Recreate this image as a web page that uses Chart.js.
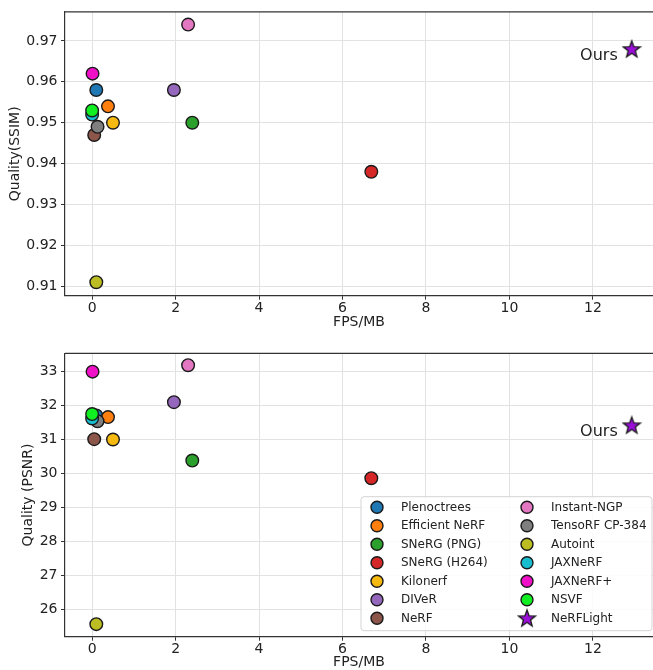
<!DOCTYPE html>
<html>
<head>
<meta charset="utf-8">
<script src="https://cdn.jsdelivr.net/npm/chart.js@4/dist/chart.umd.min.js"></script>
<style>
  html, body { margin: 0; padding: 0; background: #fff; overflow: hidden; }
  .panel { position: absolute; left: 0; width: 653px; height: 340px; }
</style>
</head>
<body>
<div class="panel" style="top:0px"><canvas id="ssimChart" width="653" height="340"></canvas></div>
<div class="panel" style="top:340px"><canvas id="psnrChart" width="653" height="340"></canvas></div>
<script>
// methods, in legend order
var methods = ['Plenoctrees', 'Efficient NeRF', 'SNeRG (PNG)', 'SNeRG (H264)', 'Kilonerf', 'DIVeR', 'NeRF',
  'Instant-NGP', 'TensoRF CP-384', 'Autoint', 'JAXNeRF', 'JAXNeRF+', 'NSVF', 'NeRFLight'];
var colors = ['#1f77b4', '#ff7f0e', '#2ca02c', '#d62728', '#f5b90f', '#9467bd', '#8c564b',
  '#e377c2', '#7f7f7f', '#bcbd22', '#17becf', '#f010c8', '#11ee22', '#9a0fd8'];
var fpsPerMB = [0.1, 0.38, 2.4, 6.69, 0.5, 1.96, 0.05, 2.3, 0.13, 0.1, 0.0, 0.01, 0.0, 12.93];
var ssim = [0.958, 0.954, 0.950, 0.938, 0.950, 0.958, 0.947, 0.974, 0.949, 0.911, 0.952, 0.962, 0.953, 0.968];
var psnr = [31.71, 31.66, 30.38, 29.86, 31.0, 32.1, 31.01, 33.19, 31.54, 25.56, 31.62, 33.0, 31.75, 31.42];
var oursLabel = 'Ours';

var FONT = "'DejaVu Sans', sans-serif";
var INK = '#222';

// filled five point star for NeRFLight
function makeStar(size, fill) {
  var c = document.createElement('canvas');
  c.width = size; c.height = size;
  var g = c.getContext('2d');
  var cx = size / 2, cy = size / 2 + 0.6, ro = size / 2 - 1.2, ri = ro * 0.42;
  g.beginPath();
  for (var i = 0; i < 10; i++) {
    var r = i % 2 == 0 ? ro : ri;
    var a = -Math.PI / 2 + i * Math.PI / 5;
    g.lineTo(cx + r * Math.cos(a), cy + r * Math.sin(a));
  }
  g.closePath();
  g.fillStyle = fill;
  g.fill();
  g.lineWidth = 1.3;
  g.strokeStyle = '#1a1a1a';
  g.lineJoin = 'miter';
  g.stroke();
  return c;
}
var starImg = makeStar(20, colors[13]);

function buildDatasets(yValues) {
  var sets = [];
  methods.forEach(function(name, i) {
    var isStar = i == methods.length - 1;
    sets.push({
      label: name,
      data: [{x: fpsPerMB[i], y: yValues[i]}],
      backgroundColor: colors[i],
      borderColor: '#1a1a1a',
      pointBorderWidth: 1.4,
      pointRadius: isStar ? 10 : 6.3,
      pointStyle: isStar ? starImg : 'circle',
      // later methods drawn on top, like matplotlib
      order: methods.length - i
    });
  });
  return sets;
}

// top spine (matplotlib-style frame)
var framePlugin = {
  id: 'frame',
  afterDraw: function(chart) {
    var a = chart.chartArea, ctx = chart.ctx;
    ctx.save();
    ctx.strokeStyle = '#333';
    ctx.lineWidth = 1.2;
    ctx.beginPath();
    ctx.moveTo(a.left, a.top);
    ctx.lineTo(a.right, a.top);
    ctx.stroke();
    ctx.restore();
  }
};

// "Ours" label next to the star
var oursPlugin = {
  id: 'ours',
  afterDatasetsDraw: function(chart) {
    var p = chart.getDatasetMeta(methods.length - 1).data[0];
    var ctx = chart.ctx;
    ctx.save();
    ctx.font = '16px ' + FONT;
    ctx.fillStyle = INK;
    ctx.textAlign = 'right';
    ctx.textBaseline = 'middle';
    ctx.fillText(oursLabel, p.x - 14, p.y + 7);
    ctx.restore();
  }
};

// two column legend in the lower right of the chart area
var legendPlugin = {
  id: 'twoColLegend',
  afterDraw: function(chart, args, opts) {
    if (!opts.show) return;
    var a = chart.chartArea, ctx = chart.ctx;
    var box = {left: a.left + 296, top: a.bottom - 140, right: a.right - 1, bottom: a.bottom - 6};
    ctx.save();
    ctx.beginPath();
    ctx.roundRect(box.left, box.top, box.right - box.left, box.bottom - box.top, 3);
    ctx.fillStyle = 'rgba(255,255,255,0.85)';
    ctx.fill();
    ctx.strokeStyle = '#d4d4d4';
    ctx.lineWidth = 1;
    ctx.stroke();
    ctx.font = '12px ' + FONT;
    ctx.textBaseline = 'middle';
    ctx.textAlign = 'left';
    var rows = 7;
    methods.forEach(function(name, i) {
      var col = Math.floor(i / rows), row = i % rows;
      var mx = box.left + 16 + col * 150;
      var my = box.top + 10.5 + row * 18.5;
      if (i == methods.length - 1) {
        ctx.drawImage(starImg, mx - 10, my - 10);
      } else {
        ctx.beginPath();
        ctx.arc(mx, my, 6, 0, Math.PI * 2);
        ctx.fillStyle = colors[i];
        ctx.fill();
        ctx.lineWidth = 1.4;
        ctx.strokeStyle = '#1a1a1a';
        ctx.stroke();
      }
      ctx.fillStyle = INK;
      ctx.fillText(name, mx + 24, my + 0.5);
    });
    ctx.restore();
  }
};

function makeChart(canvasId, yValues, cfg) {
  return new Chart(document.getElementById(canvasId), {
    type: 'scatter',
    data: {datasets: buildDatasets(yValues)},
    plugins: [framePlugin, oursPlugin, legendPlugin],
    options: {
      responsive: false,
      animation: false,
      events: [],
      layout: {autoPadding: false, padding: {top: cfg.padTop, left: 0, right: 0, bottom: 0}},
      plugins: {
        legend: {display: false},
        tooltip: {enabled: false},
        twoColLegend: {show: cfg.legend}
      },
      scales: {
        x: {
          type: 'linear',
          min: -0.65, max: 13.44,
          afterFit: function(s) { s.height = cfg.xHeight; },
          border: {color: '#333', width: 1.2},
          grid: {color: '#e2e2e2', lineWidth: 1, tickColor: '#333', tickLength: 4},
          ticks: {stepSize: 2, includeBounds: false, padding: 0, color: INK, font: {family: FONT, size: 14}},
          title: {display: true, text: 'FPS/MB', color: INK, font: {family: FONT, size: 14},
            padding: {top: 0, bottom: 8.8}}
        },
        y: {
          type: 'linear',
          min: cfg.yMin, max: cfg.yMax,
          afterFit: function(s) { s.width = 65; },
          border: {color: '#333', width: 1.2},
          grid: {color: '#e2e2e2', lineWidth: 1, tickColor: '#333', tickLength: 4},
          ticks: {stepSize: cfg.yStep, includeBounds: false, padding: 3.5, color: INK,
            font: {family: FONT, size: 14},
            callback: function(v) { return v.toFixed(cfg.decimals); }},
          title: {display: true, text: cfg.yTitle, color: INK, font: {family: FONT, size: 14},
            padding: {top: cfg.yTitlePad, bottom: 0}}
        }
      }
    }
  });
}

makeChart('ssimChart', ssim, {
  padTop: 10.7, xHeight: 44.3, yMin: 0.9077, yMax: 0.9771, yStep: 0.01, decimals: 2,
  yTitle: 'Quality(SSIM)', yTitlePad: 6.6, legend: false
});
makeChart('psnrChart', psnr, {
  padTop: 13.3, xHeight: 43.3, yMin: 25.19, yMax: 33.54, yStep: 1, decimals: 0,
  yTitle: 'Quality (PSNR)', yTitlePad: 19.6, legend: true
});
</script>
</body>
</html>
